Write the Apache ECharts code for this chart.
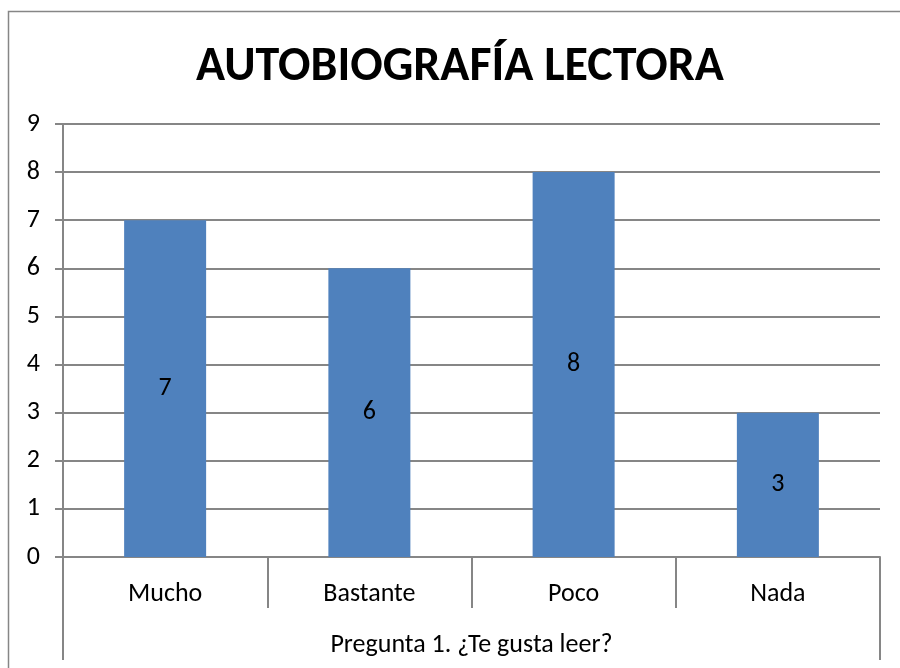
<!DOCTYPE html>
<html>
<head>
<meta charset="utf-8">
<script src="https://cdn.jsdelivr.net/npm/echarts@6/dist/echarts.min.js"></script>
<style>
  html, body { margin: 0; padding: 0; background: #fff; }
  #main { width: 900px; height: 668px; }
</style>
</head>
<body>
<div id="main"></div>
<script>
// datos
var categorias = ['Mucho', 'Bastante', 'Poco', 'Nada'];
var valores = [7, 6, 8, 3];
var pregunta = ['Pregunta 1. ¿Te gusta leer?'];
var titulo = 'AUTOBIOGRAFÍA LECTORA';

var fuente = 'Carlito, Lato, sans-serif';
var gris = '#868686';

var myChart = echarts.init(document.getElementById('main'));
var option = {
    backgroundColor: '#fff',
    animation: false,
    title: {
        text: titulo,
        left: 191,
        top: 39,
        textStyle: { fontFamily: fuente, fontWeight: 'bold', fontSize: 48, color: '#000' }
    },
    graphic: [{
        type: 'rect',
        shape: { x: 8.5, y: 11.5, width: 1000, height: 1000 },
        style: { fill: 'none', stroke: gris, lineWidth: 1.5 },
        silent: true
    }],
    grid: { left: 63, right: 20, top: 124, bottom: 111 },
    xAxis: [{
        type: 'category',
        data: categorias,
        axisLine: { show: true, lineStyle: { color: gris, width: 2 } },
        axisTick: { show: true, length: 51, lineStyle: { color: gris, width: 2 } },
        axisLabel: { color: '#000', fontFamily: fuente, fontSize: 26, margin: 24 }
    }, {
        type: 'category',
        position: 'bottom',
        data: pregunta,
        axisLine: { show: false },
        axisTick: { show: true, length: 103, lineStyle: { color: gris, width: 2 } },
        axisLabel: { color: '#000', fontFamily: fuente, fontSize: 26, margin: 75 }
    }],
    yAxis: {
        type: 'value',
        min: 0,
        max: 9,
        interval: 1,
        axisLine: { show: true, lineStyle: { color: gris, width: 2 } },
        axisTick: { show: true, length: 8, lineStyle: { color: gris, width: 2 } },
        axisLabel: { color: '#000', fontFamily: fuente, fontSize: 26, margin: 23 },
        splitLine: { show: true, lineStyle: { color: gris, width: 2 } }
    },
    series: [{
        type: 'bar',
        data: valores,
        barWidth: 82,
        itemStyle: { color: '#4F81BD' },
        label: { show: true, position: 'inside', color: '#000', fontFamily: fuente, fontSize: 26 }
    }]
};
myChart.setOption(option);
</script>
</body>
</html>
